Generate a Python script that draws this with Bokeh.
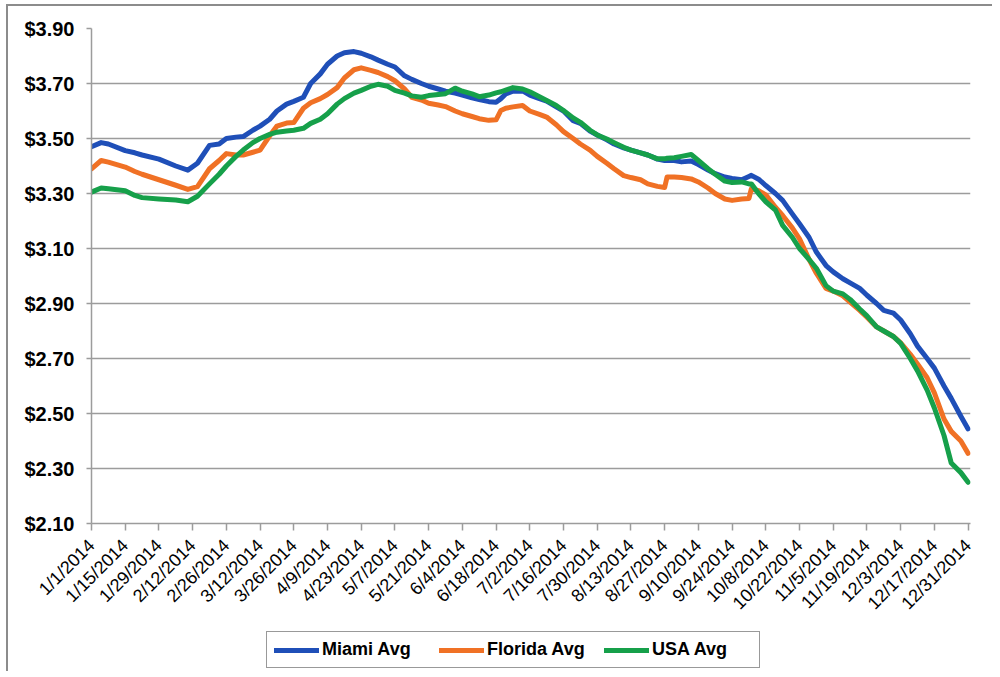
import math
from bokeh.plotting import figure
from bokeh.layouts import column
from bokeh.models import Range1d, FixedTicker, NumeralTickFormatter, Legend, LegendItem
from bokeh.embed import file_html
from bokeh.resources import INLINE

# day of year offset from 1/1/2014
days = [0, 4, 7, 14, 18, 21, 28, 35, 40, 44,
        49, 53, 56, 60, 63, 67, 70, 74, 77, 81,
        84, 88, 91, 95, 98, 102, 105, 109, 112, 116,
        119, 123, 126, 130, 133, 137, 140, 144, 147, 151,
        154, 158, 161, 165, 168, 170, 172, 175, 179, 182,
        186, 189, 193, 196, 200, 203, 207, 210, 214, 217,
        221, 224, 228, 231, 235, 238, 239, 242, 245, 249,
        252, 256, 259, 263, 266, 270, 273, 274, 277, 280,
        284, 287, 291, 294, 298, 301, 305, 308, 312, 315,
        319, 322, 326, 329, 333, 336, 340, 343, 347, 350,
        354, 357, 361, 364]

miami = [3.47, 3.485, 3.48, 3.456, 3.448, 3.44, 3.425, 3.40, 3.385, 3.41,
         3.475, 3.48, 3.50, 3.505, 3.507, 3.53, 3.545, 3.57, 3.60, 3.625,
         3.635, 3.65, 3.70, 3.735, 3.77, 3.80, 3.812, 3.816, 3.81, 3.797,
         3.785, 3.77, 3.76, 3.728, 3.715, 3.70, 3.69, 3.68, 3.672, 3.665,
         3.658, 3.648, 3.642, 3.634, 3.632, 3.645, 3.662, 3.672, 3.673, 3.658,
         3.645, 3.636, 3.615, 3.60, 3.565, 3.555, 3.527, 3.513, 3.495, 3.48,
         3.466, 3.458, 3.448, 3.44, 3.425, 3.42, 3.42, 3.42, 3.415, 3.418,
         3.405, 3.385, 3.372, 3.36, 3.355, 3.35, 3.362, 3.366, 3.352, 3.329,
         3.30, 3.275, 3.226, 3.19, 3.14, 3.087, 3.038, 3.015, 2.99, 2.975,
         2.955, 2.93, 2.90, 2.875, 2.865, 2.84, 2.79, 2.745, 2.70, 2.665,
         2.60, 2.555, 2.49, 2.444]

florida = [3.39, 3.42, 3.414, 3.396, 3.38, 3.37, 3.35, 3.33, 3.315, 3.325,
           3.39, 3.42, 3.445, 3.44, 3.44, 3.45, 3.458, 3.51, 3.545, 3.556,
           3.558, 3.61, 3.63, 3.645, 3.66, 3.685, 3.72, 3.75, 3.757, 3.748,
           3.74, 3.725, 3.71, 3.68, 3.65, 3.64, 3.628, 3.622, 3.616, 3.60,
           3.59, 3.58, 3.572, 3.566, 3.568, 3.602, 3.61, 3.615, 3.62, 3.60,
           3.588, 3.578, 3.55, 3.525, 3.50, 3.48, 3.458, 3.435, 3.41, 3.39,
           3.365, 3.358, 3.35, 3.335, 3.326, 3.322, 3.36, 3.36, 3.358, 3.353,
           3.342, 3.32, 3.30, 3.28, 3.275, 3.28, 3.282, 3.317, 3.31, 3.295,
           3.25, 3.22, 3.175, 3.135, 3.06, 3.01, 2.955, 2.945, 2.928, 2.905,
           2.875, 2.85, 2.815, 2.80, 2.78, 2.757, 2.715, 2.68, 2.63, 2.575,
           2.48, 2.435, 2.40, 2.355]

usa = [3.305, 3.32, 3.317, 3.31, 3.293, 3.285, 3.28, 3.276, 3.27, 3.29,
       3.335, 3.37, 3.40, 3.435, 3.458, 3.485, 3.50, 3.515, 3.523, 3.527,
       3.53, 3.537, 3.555, 3.57, 3.59, 3.625, 3.645, 3.665, 3.675, 3.69,
       3.697, 3.69, 3.675, 3.665, 3.655, 3.65, 3.656, 3.66, 3.663, 3.683,
       3.672, 3.662, 3.652, 3.658, 3.666, 3.67, 3.676, 3.685, 3.68, 3.67,
       3.652, 3.638, 3.62, 3.602, 3.575, 3.559, 3.53, 3.513, 3.498, 3.485,
       3.468, 3.458, 3.448, 3.44, 3.426, 3.426, 3.428, 3.43, 3.435, 3.442,
       3.42, 3.39, 3.37, 3.345, 3.34, 3.342, 3.335, 3.335, 3.30, 3.27,
       3.24, 3.184, 3.141, 3.10, 3.06, 3.028, 2.965, 2.945, 2.935, 2.915,
       2.88, 2.855, 2.815, 2.80, 2.78, 2.755, 2.70, 2.655, 2.585, 2.52,
       2.42, 2.32, 2.285, 2.25]

tick_days = [0, 14, 28, 42, 56, 70, 84, 98, 112, 126, 140, 154, 168, 182,
             196, 210, 224, 238, 252, 266, 280, 294, 308, 322, 336, 350, 364]
tick_labels = ["1/1/2014", "1/15/2014", "1/29/2014", "2/12/2014", "2/26/2014",
               "3/12/2014", "3/26/2014", "4/9/2014", "4/23/2014", "5/7/2014",
               "5/21/2014", "6/4/2014", "6/18/2014", "7/2/2014", "7/16/2014",
               "7/30/2014", "8/13/2014", "8/27/2014", "9/10/2014", "9/24/2014",
               "10/8/2014", "10/22/2014", "11/5/2014", "11/19/2014", "12/3/2014",
               "12/17/2014", "12/31/2014"]
y_ticks = [2.10, 2.30, 2.50, 2.70, 2.90, 3.10, 3.30, 3.50, 3.70, 3.90]

series_names = ["Miami Avg", "Florida Avg", "USA Avg"]
series_values = [miami, florida, usa]
colors = ["#1F4FB8", "#F07125", "#16A04A"]

FONT = "Liberation Sans"
GRAY = "#9c9c9c"
W = 984

p = figure(width=W, height=620,
           x_range=Range1d(0, 365), y_range=Range1d(2.10, 3.90),
           output_backend="svg", toolbar_location=None,
           min_border_left=83, min_border_right=22,
           min_border_top=22, min_border_bottom=103)
p.outline_line_color = None
p.background_fill_color = "white"
p.border_fill_color = "white"

p.xgrid.visible = False
p.ygrid.grid_line_color = GRAY
p.ygrid.grid_line_width = 1.5
p.ygrid.ticker = FixedTicker(ticks=y_ticks)

for name, vals, col in zip(series_names, series_values, colors):
    p.line(days, vals, line_color=col, line_width=5, line_join="round", line_cap="round")

xa = p.xaxis[0]
xa.ticker = FixedTicker(ticks=tick_days)
xa.major_label_overrides = {d: lab for d, lab in zip(tick_days, tick_labels)}
xa.major_label_orientation = math.pi / 4
xa.major_label_text_font = FONT
xa.major_label_text_font_size = "18px"
xa.major_label_text_color = "#000000"
xa.major_label_standoff = 12
xa.axis_line_color = GRAY
xa.axis_line_width = 1.5
xa.major_tick_line_color = GRAY
xa.major_tick_line_width = 1.5
xa.major_tick_in = 0
xa.major_tick_out = 7
xa.minor_tick_line_color = None

ya = p.yaxis[0]
ya.ticker = FixedTicker(ticks=y_ticks)
ya.formatter = NumeralTickFormatter(format="$0.00")
ya.major_label_text_font = FONT
ya.major_label_text_font_size = "20px"
ya.major_label_text_font_style = "bold"
ya.major_label_text_color = "#000000"
ya.major_label_standoff = 12
ya.axis_line_color = GRAY
ya.axis_line_width = 1.5
ya.major_tick_line_color = GRAY
ya.major_tick_line_width = 1.5
ya.major_tick_in = 0
ya.major_tick_out = 5
ya.minor_tick_line_color = None

# legend strip below the chart: same series, ranges chosen so the lines stay out of view
pl = figure(width=W, height=45, x_range=Range1d(0, 365), y_range=Range1d(0, 1),
            x_axis_type=None, y_axis_type=None,
            output_backend="svg", toolbar_location=None,
            min_border_left=83, min_border_right=22, min_border_top=0, min_border_bottom=0)
pl.outline_line_color = None
pl.background_fill_color = "white"
pl.border_fill_color = "white"
leg_renderers = [pl.line(days, vals, line_color=col, line_width=5, line_cap="round")
                 for vals, col in zip(series_values, colors)]

legend = Legend(
    items=[LegendItem(label=n, renderers=[r]) for n, r in zip(series_names, leg_renderers)],
    orientation="horizontal",
    location=(175, 3),
    label_text_font=FONT,
    label_text_font_size="18px",
    label_text_font_style="bold",
    label_text_color="#000000",
    label_standoff=3,
    label_width=100,
    glyph_width=45,
    glyph_height=20,
    spacing=17,
    padding=7,
    margin=0,
    border_line_color="#333333",
    border_line_width=1.5,
    background_fill_color="white",
    background_fill_alpha=1.0,
)
pl.add_layout(legend)

layout = column(p, pl, spacing=0,
                styles={"margin-left": "6px", "margin-top": "4px",
                        "border-left": "2px solid #8c8c8c", "border-top": "2px solid #8c8c8c"})

open("out.html", "w").write(file_html(layout, INLINE))
